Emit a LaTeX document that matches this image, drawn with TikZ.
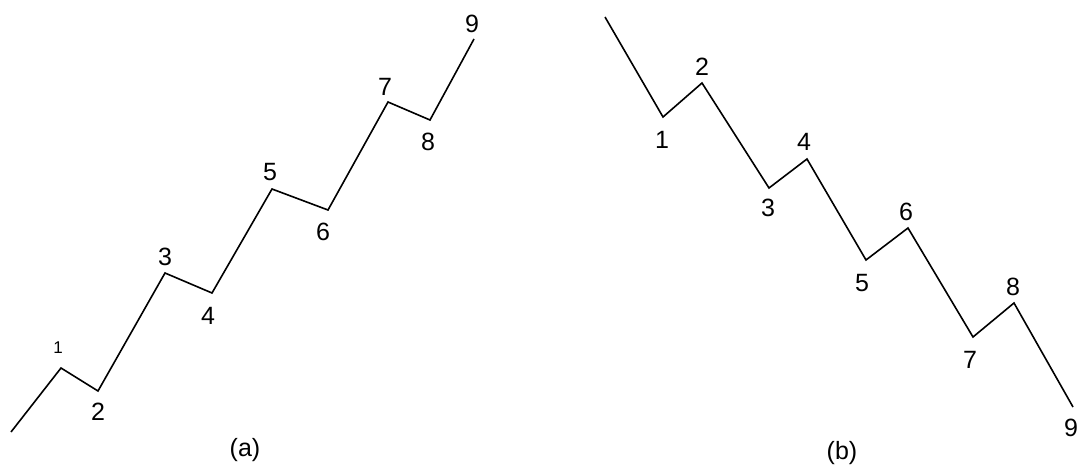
\documentclass[tikz,border=0pt]{standalone}
\usepackage{fontspec}
\setmainfont{Liberation Sans}
\begin{document}
\begin{tikzpicture}[x=1pt,y=-1pt,
  wave/.style={line width=1.6pt,line join=miter,black},
  lbl/.style={inner sep=0pt,font=\fontsize{25}{28}\selectfont},
  small/.style={inner sep=0pt,font=\fontsize{17}{20}\selectfont}]
\useasboundingbox (0,0) rectangle (1080,465);
% (a)
\coordinate (a0) at (11,432);
\coordinate (a1) at (61,368);
\coordinate (a2) at (98,391);
\coordinate (a3) at (165,273);
\coordinate (a4) at (212,293);
\coordinate (a5) at (272,189);
\coordinate (a6) at (328,210);
\coordinate (a7) at (388,102);
\coordinate (a8) at (430,120);
\coordinate (a9) at (474,39);
\draw[wave] (a0) -- (a1) -- (a2) -- (a3) -- (a4) -- (a5) -- (a6) -- (a7) -- (a8) -- (a9);
\node[small] (la1) at (58,348) {1};
\node[lbl] (la2) at (98,412) {2};
\node[lbl] (la3) at (165,257) {3};
\node[lbl] (la4) at (208,316) {4};
\node[lbl] (la5) at (270,172) {5};
\node[lbl] (la6) at (323,232) {6};
\node[lbl] (la7) at (385,87) {7};
\node[lbl] (la8) at (428,142) {8};
\node[lbl] (la9) at (472,24) {9};
\node[lbl] (capa) at (245,450) {(a)};
% (b)
\coordinate (b0) at (605,17);
\coordinate (b1) at (663,117);
\coordinate (b2) at (702,83);
\coordinate (b3) at (769,188);
\coordinate (b4) at (807,159);
\coordinate (b5) at (866,260);
\coordinate (b6) at (908,228);
\coordinate (b7) at (973,337);
\coordinate (b8) at (1014,303);
\coordinate (b9) at (1073,407);
\draw[wave] (b0) -- (b1) -- (b2) -- (b3) -- (b4) -- (b5) -- (b6) -- (b7) -- (b8) -- (b9);
\node[lbl] (lb1) at (662,140) {1};
\node[lbl] (lb2) at (702,67) {2};
\node[lbl] (lb3) at (768,208) {3};
\node[lbl] (lb4) at (804,142) {4};
\node[lbl] (lb5) at (862,283) {5};
\node[lbl] (lb6) at (906,212) {6};
\node[lbl] (lb7) at (970,360) {7};
\node[lbl] (lb8) at (1013,287) {8};
\node[lbl] (lb9) at (1071,428) {9};
\node[lbl] (capb) at (842,453) {(b)};
\end{tikzpicture}
\end{document}
